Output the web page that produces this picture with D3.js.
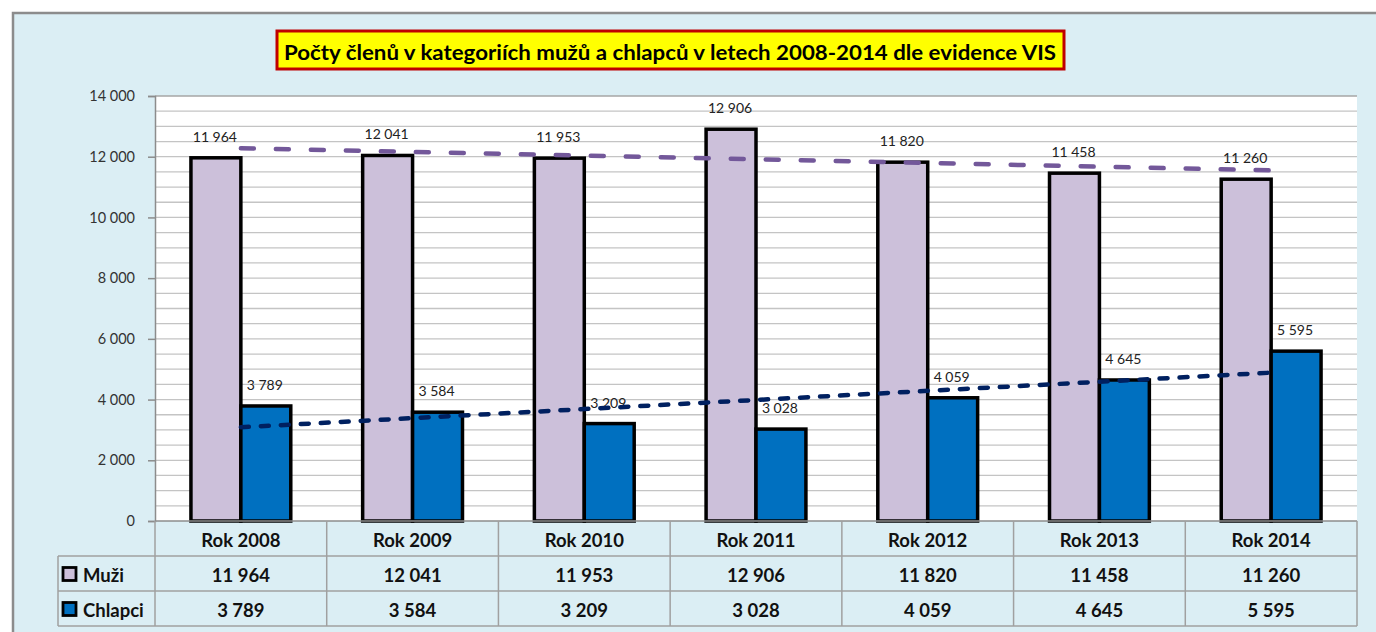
<!DOCTYPE html>
<html>
<head>
<meta charset="utf-8">
<script src="https://cdn.jsdelivr.net/npm/d3@7"></script>
<style>
  body { margin: 0; background: #fff; }
  svg { display: block; font-family: Lato, "Open Sans", sans-serif; }
</style>
</head>
<body>
<script>
//Data

var years = ["Rok 2008", "Rok 2009", "Rok 2010", "Rok 2011", "Rok 2012", "Rok 2013", "Rok 2014"];
var muzi = [11964, 12041, 11953, 12906, 11820, 11458, 11260];
var chlapci = [3789, 3584, 3209, 3028, 4059, 4645, 5595];
var seriesNames = ["Muži", "Chlapci"];
var yTicks = [0, 2000, 4000, 6000, 8000, 10000, 12000, 14000];
var title = "Počty členů v kategoriích mužů a chlapců v letech 2008-2014 dle evidence VIS";

var colors = ["#ccc0da", "#0070c0"];
var trendColors = ["#73589a", "#002060"];

//Global Variables

var W = 1376, H = 632;
var plotLeft = 155, plotRight = 1357, plotTop = 96, plotBottom = 521;
var rowH = 35;
var legendLeft = 58;

var cz = d3.formatLocale({decimal: ",", thousands: "\u00a0", grouping: [3], currency: ["", " Kč"]});
var fmt = cz.format(",d");

var svg = d3.select("body").append("svg")
  .attr("width", W).attr("height", H);

// frame
svg.append("rect")
  .attr("x", 13).attr("y", 13)
  .attr("width", W).attr("height", H)
  .attr("fill", "#dbeef4")
  .attr("stroke", "#8c8c8c")
  .attr("stroke-width", 2.5);

// title box
var tg = svg.append("g");
tg.append("rect")
  .attr("x", 277).attr("y", 31)
  .attr("width", 787).attr("height", 38)
  .attr("fill", "#ffff00")
  .attr("stroke", "#c00000")
  .attr("stroke-width", 3);
tg.append("text")
  .attr("x", 670).attr("y", 51)
  .attr("text-anchor", "middle")
  .attr("dominant-baseline", "central")
  .attr("font-size", 21)
  .attr("font-weight", "bold")
  .attr("fill", "#000")
  .attr("textLength", 772)
  .attr("lengthAdjust", "spacingAndGlyphs")
  .text(title);

//Scales

var x = d3.scaleBand().domain(years).range([plotLeft, plotRight]).padding(0);
var xs = d3.scaleBand().domain(seriesNames).range([0, x.bandwidth()]).paddingOuter(0.72).paddingInner(0);
var y = d3.scaleLinear().domain([0, 14000]).range([plotBottom, plotTop]);

// plot area
svg.append("rect")
  .attr("x", plotLeft).attr("y", plotTop)
  .attr("width", plotRight - plotLeft).attr("height", plotBottom - plotTop)
  .attr("fill", "#fff");

// grid every 500
svg.append("g")
  .selectAll("line")
  .data(d3.range(500, 14001, 500))
  .enter().append("line")
  .attr("x1", plotLeft).attr("x2", plotRight)
  .attr("y1", function(d){ return y(d); })
  .attr("y2", function(d){ return y(d); })
  .attr("stroke", function(d){ return d == 14000 ? "#a6a6a6" : "#c4c4c4"; })
  .attr("stroke-width", 1.3);

// y axis
var yAxis = svg.append("g")
  .attr("transform", "translate(" + plotLeft + ",0)")
  .call(d3.axisLeft(y).tickValues(yTicks).tickFormat(fmt).tickSize(7).tickPadding(13));
yAxis.select(".domain").attr("stroke", "#8c8c8c").attr("stroke-width", 1.5);
yAxis.selectAll(".tick line").attr("stroke", "#8c8c8c").attr("stroke-width", 1.5);
yAxis.selectAll("text")
  .attr("font-size", 14.5)
  .attr("fill", "#333")
  .attr("font-family", "Lato, sans-serif");

//Bars

var seriesData = [muzi, chlapci];

var groups = svg.append("g").selectAll("g")
  .data(seriesData)
  .enter().append("g");

groups.selectAll("rect")
  .data(function(vals, s){ return vals.map(function(v, i){ return {s: s, i: i, v: v}; }); })
  .enter().append("rect")
  .attr("x", function(d){ return x(years[d.i]) + xs(seriesNames[d.s]); })
  .attr("y", function(d){ return y(d.v); })
  .attr("width", xs.bandwidth())
  .attr("height", function(d){ return y(0) - y(d.v); })
  .attr("fill", function(d){ return colors[d.s]; })
  .attr("stroke", "#000")
  .attr("stroke-width", 3.5);

// data labels
groups.selectAll("text")
  .data(function(vals, s){ return vals.map(function(v, i){ return {s: s, i: i, v: v}; }); })
  .enter().append("text")
  .attr("x", function(d){ return x(years[d.i]) + xs(seriesNames[d.s]) + xs.bandwidth() / 2 - 1; })
  .attr("y", function(d){ return y(d.v) - 16; })
  .attr("text-anchor", "middle")
  .attr("font-size", 14)
  .attr("fill", "#222")
  .text(function(d){ return fmt(d.v); });

//Trend lines (linear regression)

function regression(vals){
  var xm = d3.mean(vals, function(v, i){ return i; });
  var ym = d3.mean(vals);
  var sxy = d3.sum(vals, function(v, i){ return (i - xm) * (v - ym); });
  var sxx = d3.sum(vals, function(v, i){ return (i - xm) * (i - xm); });
  var b = sxy / sxx;
  return function(i){ return ym + b * (i - xm); };
}

var dashes = ["13,22", "8,12"];
seriesData.forEach(function(vals, s){
  var f = regression(vals);
  var ends = [0, vals.length - 1];
  svg.append("line")
    .attr("x1", x(years[ends[0]]) + x.bandwidth() / 2)
    .attr("y1", y(f(ends[0])))
    .attr("x2", x(years[ends[1]]) + x.bandwidth() / 2)
    .attr("y2", y(f(ends[1])))
    .attr("stroke", trendColors[s])
    .attr("stroke-width", 4.5)
    .attr("stroke-linecap", "round")
    .attr("stroke-dasharray", dashes[s]);
});

//Data table

var table = svg.append("g").attr("font-weight", "bold").attr("fill", "#111");
var border = "#a0a0a0";

// horizontal lines
[0, 1, 2, 3].forEach(function(r){
  table.append("line")
    .attr("x1", r == 0 ? plotLeft : legendLeft).attr("x2", plotRight)
    .attr("y1", plotBottom + r * rowH).attr("y2", plotBottom + r * rowH)
    .attr("stroke", r == 0 ? "#8c8c8c" : border)
    .attr("stroke-width", 1.5);
});
// vertical lines
d3.range(years.length + 1).forEach(function(i){
  var xx = i < years.length ? x(years[i]) : plotRight;
  table.append("line")
    .attr("x1", xx).attr("x2", xx)
    .attr("y1", plotBottom).attr("y2", plotBottom + 3 * rowH)
    .attr("stroke", border).attr("stroke-width", 1.5);
});
table.append("line")
  .attr("x1", legendLeft).attr("x2", legendLeft)
  .attr("y1", plotBottom + rowH).attr("y2", plotBottom + 3 * rowH)
  .attr("stroke", border).attr("stroke-width", 1.5);

// header
table.selectAll(".hdr")
  .data(years)
  .enter().append("text")
  .attr("class", "hdr")
  .attr("x", function(d){ return x(d) + x.bandwidth() / 2; })
  .attr("y", plotBottom + rowH / 2 + 1)
  .attr("text-anchor", "middle")
  .attr("dominant-baseline", "central")
  .attr("font-size", 18.5)
  .text(function(d){ return d; });

// rows
seriesData.forEach(function(vals, s){
  var cy = plotBottom + (s + 1) * rowH + rowH / 2 + 1;
  table.append("rect")
    .attr("x", legendLeft + 5).attr("y", cy - 7)
    .attr("width", 13).attr("height", 13)
    .attr("fill", colors[s])
    .attr("stroke", "#000").attr("stroke-width", 2.8);
  table.append("text")
    .attr("x", legendLeft + 25).attr("y", cy)
    .attr("dominant-baseline", "central")
    .attr("font-size", 18.5)
    .text(seriesNames[s]);
  table.selectAll(".v" + s)
    .data(vals)
    .enter().append("text")
    .attr("class", "v" + s)
    .attr("x", function(d, i){ return x(years[i]) + x.bandwidth() / 2; })
    .attr("y", cy)
    .attr("text-anchor", "middle")
    .attr("dominant-baseline", "central")
    .attr("font-size", 18.5)
    .text(function(d){ return fmt(d); });
});
</script>
</body>
</html>
